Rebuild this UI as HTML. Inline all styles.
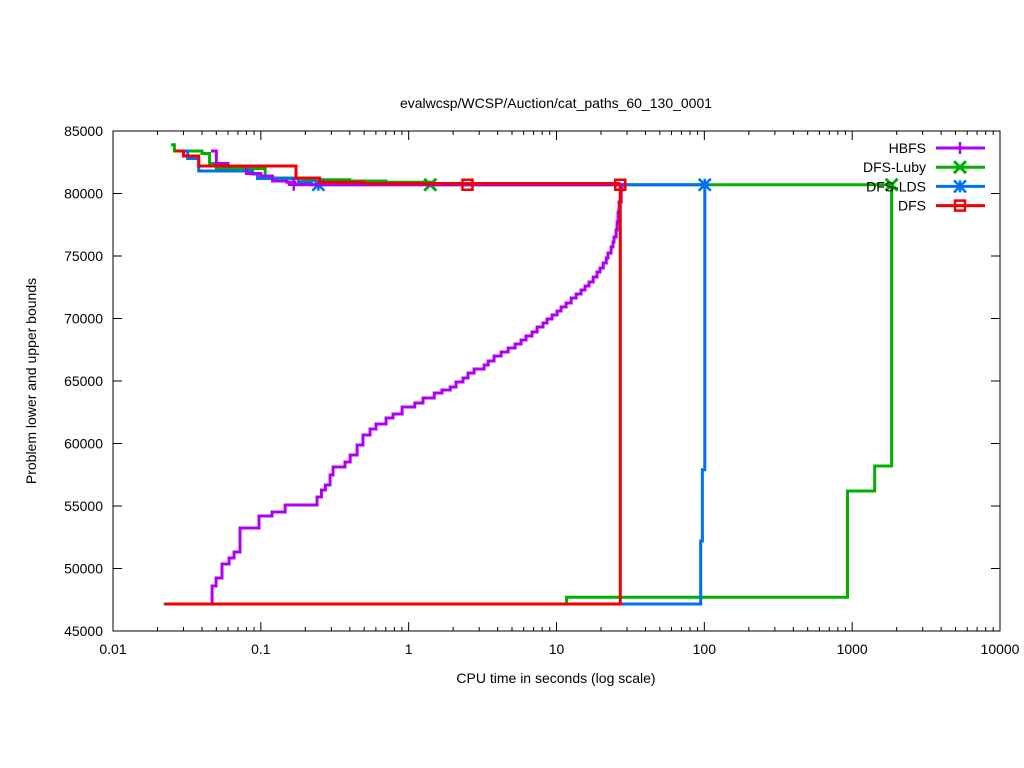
<!DOCTYPE html>
<html><head><meta charset="utf-8"><style>
body{margin:0;background:#fff;}
svg{display:block;font-family:"Liberation Sans",sans-serif;}
</style></head><body>
<svg id="chart" width="1024" height="768" viewBox="0 0 1024 768">
<text x="556" y="108" font-size="14" text-anchor="middle">evalwcsp/WCSP/Auction/cat_paths_60_130_0001</text>
<text x="556" y="683" font-size="14" text-anchor="middle">CPU time in seconds (log scale)</text>
<text transform="translate(36,381) rotate(-90)" font-size="14" text-anchor="middle">Problem lower and upper bounds</text>
<g id="axes"></g>
<g id="series"></g>
<g id="legend"></g>
<rect x="113" y="131" width="887" height="500" fill="none" stroke="#000" stroke-width="1"/>
</svg>
<script>
const xTicks=[0.01,0.1,1,10,100,1000,10000];
const xTickLabels=["0.01","0.1","1","10","100","1000","10000"];
const yTicks=[45000,50000,55000,60000,65000,70000,75000,80000,85000];
const seriesNames=["HBFS","DFS-Luby","DFS-LDS","DFS"];
const seriesColors=["#b000f0","#00b000","#0070f0","#f00000"];
// [time, value] steps
const hbfsUpper=[[0.046,83400],[0.05,82400],[0.06,82200],[0.08,81600],[0.1,81400],[0.12,81000],[0.15,80900],[0.17,80700],[27.4,80700]];
const hbfsLower=[[0.0468,47160],[0.0468,48600],[0.0498,49240],[0.0546,50360],[0.061,50840],[0.0659,51320],[0.0723,53240],[0.0972,54200],[0.119,54520],[0.146,55080],[0.24,55720],[0.257,56280],[0.273,56680],[0.294,57480],[0.308,58120],[0.371,58520],[0.402,59080],[0.448,59880],[0.491,60680],[0.548,61160],[0.601,61560],[0.703,62040],[0.784,62360],[0.903,62920],[1.10,63240],[1.25,63640],[1.49,64040],[1.68,64280],[1.91,64520],[2.09,64920],[2.33,65240],[2.52,65640],[2.77,65960],[3.24,66280],[3.45,66600],[3.78,67000],[4.22,67320],[4.71,67640],[5.25,67960],[5.76,68280],[6.22,68600],[6.83,68920],[7.39,69320],[8.11,69640],[8.63,69960],[9.33,70280],[10.09,70600],[10.74,70920],[11.61,71240],[12.56,71640],[13.58,71960],[14.66,72280],[15.6,72600],[16.6,72920],[17.7,73320],[18.8,73720],[19.7,74040],[20.7,74440],[21.7,74840],[22.3,75240],[23.4,75720],[24.1,76120],[24.5,76520],[25.3,77080],[25.7,77720],[26.1,78520],[26.5,79320],[27.4,80280],[27.8,80840]];
const lubyUpper=[[0.0247,83900],[0.026,83400],[0.04,83200],[0.045,82400],[0.05,82000],[0.107,81240],[0.19,81100],[0.4,81000],[0.7,80900],[1.4,80700],[1850,80700]];
const lubyLower=[[0.022,47160],[11.7,47160],[11.7,47700],[930,47700],[930,56200],[1420,56200],[1420,58200],[1850,58200],[1850,80700]];
const ldsUpper=[[0.0307,83400],[0.032,82800],[0.038,81800],[0.088,81560],[0.095,81200],[0.18,80900],[0.22,80700],[100.7,80700]];
const ldsLower=[[27,47160],[94.5,47160],[94.5,52200],[97,57900],[100.7,80700]];
const dfsUpper=[[0.0263,83400],[0.03,83000],[0.038,82200],[0.173,81240],[0.25,80900],[0.5,80800],[27,80800]];
const dfsLower=[[0.0225,47160],[27,47160],[27,80700]];
const markerTimes=[[0.167],[1.4,1850],[0.245,100.7],[2.5,27]];
const markerValues=[[80700],[80700,80700],[80700,80700],[80700,80700]];

const X0=113,X1=1000,Y0=631,Y1=131;
const xs=t=>X0+(Math.log10(t)+2)/6*(X1-X0);
const ys=v=>Y0-(v-45000)/40000*(Y0-Y1);
const NS="http://www.w3.org/2000/svg";
function mk(tag,attrs,parent){const e=document.createElementNS(NS,tag);for(const k in attrs)e.setAttribute(k,attrs[k]);parent.appendChild(e);return e;}
const axes=document.getElementById('axes');
xTicks.forEach((t,i)=>{
  const x=xs(t);
  const tk=mk('path',{d:`M${x},${Y0}v-9M${x},${Y1}v9`,stroke:'#000'},axes);
  
  
  if(i<xTicks.length-1){for(let m=2;m<10;m++){const xm=xs(t*m);const mt=mk('path',{d:`M${xm},${Y0}v-4M${xm},${Y1}v4`,stroke:'#000'},axes);
    
    }}
  const lb=mk('text',{x:x,y:Y0+23,'font-size':14,'text-anchor':'middle'},axes);lb.textContent=xTickLabels[i];
  
  
});
yTicks.forEach(v=>{
  const y=ys(v);
  const tk=mk('path',{d:`M${X0},${y}h9M${X1},${y}h-9`,stroke:'#000'},axes);
  
  
  const lb=mk('text',{x:X0-10,y:y+5,'font-size':14,'text-anchor':'end'},axes);lb.textContent=v;
  
  
});
function stepPath(pts){let d='';pts.forEach((p,i)=>{const x=xs(p[0]),y=ys(p[1]);if(i==0)d=`M${x},${y}`;else{d+=`H${x}V${y}`;}});return d;}
function marker(kind,x,y,c,g){
  let m;
  if(kind==0)m=mk('path',{d:`M${x-6},${y}h12M${x},${y-6}v12`,stroke:c,'stroke-width':2.5,fill:'none'},g);
  else if(kind==1)m=mk('path',{d:`M${x-6},${y-6}l12,12M${x-6},${y+6}l12,-12`,stroke:c,'stroke-width':3,fill:'none'},g);
  else if(kind==2)m=mk('path',{d:`M${x-6},${y}h12M${x-6},${y-6}l12,12M${x-6},${y+6}l12,-12M${x},${y-6}v12`,stroke:c,'stroke-width':2.5,fill:'none'},g);
  else m=mk('rect',{x:x-5,y:y-5,width:10,height:10,stroke:c,'stroke-width':2.5,fill:'none'},g);
  return m;
}
const ser=document.getElementById('series');
const uppers=[hbfsUpper,lubyUpper,ldsUpper,dfsUpper];
const lowers=[hbfsLower,lubyLower,ldsLower,dfsLower];
[1,2,0,3].forEach(i=>{
  const c=seriesColors[i];
  const g=mk('g',{},ser);
  
  
  const lo=mk('path',{d:stepPath(lowers[i]),stroke:c,'stroke-width':3,fill:'none'},g);
  
  
  const up=mk('path',{d:stepPath(uppers[i]),stroke:c,'stroke-width':3,fill:'none'},g);
  
  
  markerTimes[i].forEach((t,j)=>{const m=marker(i,xs(t),ys(markerValues[i][j]),c,g);
    
    });
});
const lg=document.getElementById('legend');
seriesNames.forEach((n,i)=>{
  const y=148+i*19.2;
  const t=mk('text',{x:926,y:y+5,'font-size':14,'text-anchor':'end'},lg);t.textContent=n;
  
  
  const l=mk('path',{d:`M936,${y}H985`,stroke:seriesColors[i],'stroke-width':3},lg);
  
  
  const m=marker(i,960,y,seriesColors[i],lg);
  
  
});
</script>
</body></html>
